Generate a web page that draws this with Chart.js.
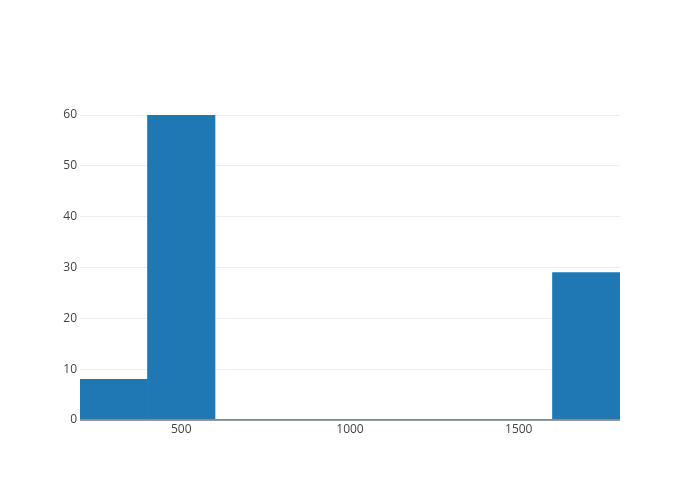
<!DOCTYPE html>
<html>
<head>
<meta charset="utf-8">
<script src="https://cdn.jsdelivr.net/npm/chart.js@4"></script>
<style>
html,body{margin:0;padding:0;background:#fff;}
#wrap{width:700px;height:500px;}
</style>
</head>
<body>
<div id="wrap"><canvas id="c" width="700" height="500"></canvas></div>
<script>
const binCenters = [300, 500, 700, 900, 1100, 1300, 1500, 1700];
const counts = [8, 60, 0, 0, 0, 0, 0, 29];
const xTicks = [500, 1000, 1500];
const yTicks = [0, 10, 20, 30, 40, 50, 60];

const data = binCenters.map((x, i) => ({x: x, y: counts[i]}));

new Chart(document.getElementById('c'), {
  type: 'bar',
  data: {
    datasets: [{
      data: data,
      backgroundColor: '#1f77b4',
      borderWidth: 0,
      barPercentage: 1,
      categoryPercentage: 1
    }]
  },
  options: {
    responsive: false,
    animation: false,
    layout: {padding: {left: 0, right: 80, top: 115, bottom: 0}},
    plugins: {legend: {display: false}, tooltip: {enabled: false}},
    scales: {
      x: {
        type: 'linear',
        min: 200, max: 1800,
        offset: false,
        afterBuildTicks: s => { s.ticks = xTicks.map(v => ({value: v})); },
        afterFit: s => { s.height = 80; },
        grid: {display: false, drawTicks: false},
        border: {display: false},
        ticks: {color: '#444', font: {family: '"Open Sans"', size: 12}, padding: 2, maxRotation: 0,
                callback: v => String(v)}
      },
      y: {
        min: 0, max: 60,
        afterBuildTicks: s => { s.ticks = yTicks.map(v => ({value: v})); },
        afterFit: s => { s.width = 80; },
        grid: {
          drawTicks: false,
          color: ctx => ctx.tick && ctx.tick.value === 0 ? '#999' : '#eee',
          lineWidth: ctx => ctx.tick && ctx.tick.value === 0 ? 2 : 1
        },
        border: {display: false},
        ticks: {color: '#444', font: {family: '"Open Sans"', size: 12}, padding: 3}
      }
    }
  }
});
</script>
</body>
</html>
